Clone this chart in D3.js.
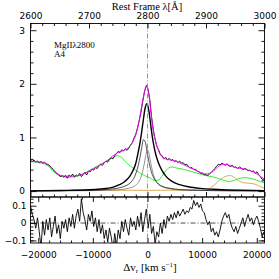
<!DOCTYPE html>
<html><head><meta charset="utf-8">
<script src="https://cdn.jsdelivr.net/npm/d3@7"></script>
<style>body{margin:0;background:#fff}svg{display:block}</style>
</head><body><svg id="c" width="279" height="279"></svg>
<script>
// ---------------- data ----------------
const lamTicks = [2600, 2700, 2800, 2900, 3000];
const velTicks = [-20000, -10000, 0, 10000, 20000];
const fluxTicks = [0, 1, 2, 3];
const resTicks = [-0.1, 0, 0.1];

// observed spectrum, sampled every 3 A from 2600
const specFlux = [
 0.57,0.55,0.58,0.54,0.56,0.53,0.55,0.52,0.54,0.50,
 0.50,0.47,0.44,0.40,0.36,0.33,0.31,0.27,0.29,0.26,
 0.29,0.24,0.30,0.27,0.32,0.26,0.30,0.28,0.33,0.27,
 0.31,0.35,0.30,0.37,0.36,0.41,0.39,0.44,0.42,0.47,
 0.50,0.48,0.53,0.56,0.54,0.59,0.62,0.60,0.66,0.70,
 0.74,0.72,0.77,0.75,0.79,0.76,0.80,0.86,0.90,0.99,
 1.06,1.18,1.32,1.48,1.68,1.86,1.97,1.90,1.70,1.38,
 1.14,0.97,0.83,0.77,0.68,0.66,0.60,0.63,0.58,0.61,
 0.57,0.59,0.55,0.57,0.53,0.56,0.52,0.53,0.49,0.50,
 0.46,0.43,0.44,0.40,0.41,0.37,0.36,0.33,0.34,0.30,
 0.31,0.29,0.32,0.35,0.38,0.42,0.46,0.50,0.49,0.52,
 0.50,0.48,0.51,0.47,0.46,0.48,0.44,0.45,0.42,0.45,
 0.43,0.40,0.42,0.41,0.38,0.39,0.36,0.38,0.33,0.36,
 0.31,0.27,0.22,0.21
];
// residuals on the same grid
const resid = [
 0.10,0.05,0.02,-0.03,0.03,-0.05,-0.14,0.01,-0.07,0.02,
 -0.04,0.03,-0.08,-0.02,0.04,-0.06,-0.01,-0.09,0.01,-0.03,
 0.02,-0.05,0.03,-0.02,0.05,-0.03,0.04,0.08,0.01,0.14,
 0.06,0.02,-0.04,0.05,0.01,0.07,-0.02,0.03,-0.05,0.02,
 -0.06,-0.01,-0.09,-0.04,-0.11,-0.03,-0.08,-0.15,-0.06,-0.13,
 -0.04,-0.09,0.01,-0.05,0.02,-0.03,-0.07,0.03,-0.02,0.01,
 -0.04,0.04,-0.02,0.06,-0.05,0.02,0.08,-0.03,0.05,-0.06,
 -0.02,-0.12,-0.05,-0.08,0.00,-0.06,0.02,-0.03,0.04,0.01,
 0.05,0.02,0.06,0.03,0.07,0.04,0.06,0.08,0.05,0.07,
 0.06,0.09,0.08,0.13,0.10,0.12,0.09,0.11,0.07,0.06,
 0.02,-0.01,0.01,-0.05,-0.03,-0.07,-0.05,-0.08,-0.04,0.01,
 0.04,0.06,0.03,0.05,0.00,-0.03,-0.05,-0.02,-0.06,-0.03,
 0.00,0.03,-0.02,0.02,0.05,0.01,0.03,-0.01,0.02,0.04,
 0.01,-0.03,-0.08,-0.05
];

// full model (magenta)
const modelWave = [2600,2610,2620,2630,2640,2650,2660,2670,2680,2690,2700,2710,2720,2730,2740,2750,2760,2770,2775,2780,2785,2790,2795,2798,2800,2803,2806,2810,2815,2820,2825,2830,2840,2850,2860,2870,2880,2890,2900,2910,2920,2930,2940,2950,2960,2970,2980,2990,3000];
const modelFlux = [0.56,0.55,0.54,0.49,0.38,0.30,0.28,0.28,0.29,0.32,0.37,0.43,0.49,0.56,0.65,0.72,0.76,0.84,0.92,1.05,1.28,1.58,1.86,1.95,1.93,1.75,1.45,1.12,0.88,0.72,0.64,0.60,0.58,0.55,0.50,0.45,0.40,0.35,0.32,0.35,0.45,0.50,0.48,0.44,0.42,0.40,0.36,0.30,0.22];

// FeII template (green)
const feWave = [2600,2610,2620,2630,2640,2650,2660,2670,2680,2690,2700,2710,2720,2730,2740,2748,2755,2765,2775,2785,2795,2805,2812,2818,2824,2830,2836,2842,2850,2860,2870,2880,2890,2900,2910,2920,2930,2938,2946,2955,2965,2975,2985,2995,3000];
const feFlux = [0.55,0.54,0.52,0.47,0.36,0.28,0.26,0.26,0.28,0.32,0.38,0.44,0.50,0.56,0.62,0.66,0.63,0.52,0.43,0.35,0.29,0.24,0.20,0.20,0.27,0.36,0.43,0.45,0.43,0.41,0.38,0.35,0.32,0.29,0.27,0.24,0.20,0.18,0.19,0.23,0.25,0.24,0.21,0.17,0.15];

// other emission (orange)
const orWave = [2665,2700,2800,2900,2905,2915,2925,2935,2940,2945,2955,2962,2970,2980,2990,3000];
const orFlux = [0.015,0.015,0.015,0.018,0.04,0.12,0.22,0.28,0.29,0.28,0.20,0.16,0.15,0.14,0.10,0.05];

// MgII total (thick black)
const mgWave = [2600,2650,2700,2720,2740,2752,2760,2768,2775,2780,2784,2787,2790,2793,2796,2799,2802,2805,2808,2811,2815,2819,2824,2832,2842,2855,2870,2890,2920,2960,3000];
const mgFlux = [0.005,0.012,0.025,0.04,0.07,0.12,0.17,0.25,0.38,0.52,0.72,0.89,1.10,1.34,1.55,1.63,1.52,1.28,1.03,0.84,0.65,0.52,0.40,0.27,0.18,0.12,0.08,0.05,0.03,0.015,0.008];

// MgII component a (thin black)
const aWave = [2600,2700,2740,2755,2765,2772,2778,2783,2787,2790,2793,2796,2799,2802,2806,2810,2816,2825,2840,2870,2950,3000];
const aFlux = [0.003,0.015,0.04,0.07,0.11,0.17,0.27,0.43,0.62,0.80,0.96,0.92,0.76,0.57,0.38,0.26,0.16,0.09,0.05,0.02,0.006,0.004];

// MgII component b (grey)
const bWave = [2600,2700,2750,2770,2780,2786,2790,2794,2797,2800,2803,2806,2810,2815,2822,2835,2860,2950,3000];
const bFlux = [0.002,0.008,0.025,0.06,0.11,0.19,0.30,0.48,0.66,0.77,0.68,0.50,0.31,0.18,0.10,0.05,0.02,0.005,0.003];

// ---------------- layout ----------------
const L = 30.5, R = 264.5, T1 = 23.5, B1 = 197, B2 = 243;
const svg = d3.select("#c");
const cLight = 299792.458;
const x = d3.scaleLinear().domain([2600, 3000]).range([L, R]);
const xv = d3.scaleLinear().domain([cLight*(2600/2800-1), cLight*(3000/2800-1)]).range([L, R]);
const y1 = d3.scaleLinear().domain([-0.11, 3.125]).range([B1, T1]);
const y2 = d3.scaleLinear().domain([-0.115, 0.15]).range([B2, B1]);
const specWave = d3.range(2600, 3000, 3);

const defs = svg.append("defs");
defs.append("clipPath").attr("id","cp1").append("rect").attr("x",L).attr("y",T1).attr("width",R-L).attr("height",B1-T1);
defs.append("clipPath").attr("id","cp2").append("rect").attr("x",L).attr("y",B1).attr("width",R-L).attr("height",B2-B1);

const g1 = svg.append("g").attr("clip-path","url(#cp1)");
const g2 = svg.append("g").attr("clip-path","url(#cp2)");

function curve(g, ws, fs, color, w, cv, ys) {
  const line = d3.line().x((d,i)=>x(ws[i])).y(d=>ys(d)).curve(cv);
  g.append("path").datum(fs).attr("d", line).attr("fill","none")
   .attr("stroke", color).attr("stroke-width", w).attr("stroke-linejoin","round");
}
const smooth = d3.curveMonotoneX, lin = d3.curveLinear;

curve(g1, orWave, orFlux, "#d9a040", 0.9, smooth, y1);
curve(g1, feWave, feFlux, "#22e622", 0.9, smooth, y1);
curve(g1, bWave, bFlux, "#777", 0.8, smooth, y1);
curve(g1, aWave, aFlux, "#222", 0.8, smooth, y1);
curve(g1, mgWave, mgFlux, "#000", 1.4, smooth, y1);
curve(g1, specWave, specFlux, "#000", 0.9, lin, y1);
curve(g1, modelWave, modelFlux, "#ff00ff", 0.9, smooth, y1);

// residuals
g2.append("line").attr("x1",L).attr("x2",R).attr("y1",y2(0)).attr("y2",y2(0))
  .attr("stroke","#000").attr("stroke-width",0.7).attr("stroke-dasharray","5,2,1,2");
curve(g2, specWave, resid, "#000", 0.9, lin, y2);

// vertical dash-dot at 2800
svg.append("line").attr("x1",x(2800)).attr("x2",x(2800)).attr("y1",T1).attr("y2",B2)
  .attr("stroke","#888").attr("stroke-width",0.9).attr("stroke-dasharray","5,2,1,2");

// ---------------- axes ----------------
function axis(gen, scale, vals, size, fmt, pad, tr) {
  const g = svg.append("g").attr("transform", tr)
    .call(gen(scale).tickValues(vals).tickSize(size).tickPadding(pad).tickFormat(fmt));
  g.select(".domain").remove();
  g.attr("font-family","DejaVu Sans").attr("font-size",9);
  g.selectAll("line").attr("stroke","#000").attr("stroke-width",0.9);
  g.selectAll("text").attr("fill","#000");
  return g;
}
const none = () => "";
const lamMinor = d3.range(2620, 3000, 20).filter(v => v % 100 !== 0);
const velMinor = d3.range(-20000, 21000, 2000).filter(v => v % 10000 !== 0);
const fMinor = d3.range(-0.0, 3.1, 0.2).map(v=>+v.toFixed(1)).filter(v => v % 1 !== 0);
const rMinor = [-0.1,-0.08,-0.06,-0.04,-0.02,0.02,0.04,0.06,0.08,0.12,0.14];

// top panel
axis(d3.axisTop, x, lamTicks, -5, d3.format("d"), 4.5, `translate(0,${T1})`);
axis(d3.axisTop, x, lamMinor, -2.5, none, 0, `translate(0,${T1})`);
axis(d3.axisBottom, x, lamTicks, -5, none, 0, `translate(0,${B1})`);
axis(d3.axisBottom, x, lamMinor, -2.5, none, 0, `translate(0,${B1})`);
const la = axis(d3.axisLeft, y1, fluxTicks, -6, d3.format("d"), 0, `translate(${L},0)`);
la.selectAll("text").attr("text-anchor","middle").attr("x",-8.5);
axis(d3.axisLeft, y1, fMinor, -3, none, 0, `translate(${L},0)`);
axis(d3.axisRight, y1, fluxTicks, -6, none, 0, `translate(${R},0)`);
axis(d3.axisRight, y1, fMinor, -3, none, 0, `translate(${R},0)`);

// bottom panel
axis(d3.axisBottom, xv, velTicks, -5, d => d3.format("d")(d).replace("-", "\u2212"), 9, `translate(0,${B2})`);
axis(d3.axisBottom, xv, velMinor, -2.5, none, 0, `translate(0,${B2})`);
axis(d3.axisTop, xv, velTicks, -5, none, 0, `translate(0,${B1})`);
axis(d3.axisTop, xv, velMinor, -2.5, none, 0, `translate(0,${B1})`);
const lb = axis(d3.axisLeft, y2, resTicks, -6, d => d === 0 ? "0" : d3.format(".1f")(d).replace("-", "\u2212"), 0, `translate(${L},0)`);
lb.selectAll("text").attr("x",-4);
axis(d3.axisLeft, y2, rMinor, -3, none, 0, `translate(${L},0)`);
axis(d3.axisRight, y2, resTicks, -6, none, 0, `translate(${R},0)`);
axis(d3.axisRight, y2, rMinor, -3, none, 0, `translate(${R},0)`);

// frames
svg.append("rect").attr("x",L).attr("y",T1).attr("width",R-L).attr("height",B1-T1)
  .attr("fill","none").attr("stroke","#000").attr("stroke-width",0.9);
svg.append("rect").attr("x",L).attr("y",B1).attr("width",R-L).attr("height",B2-B1)
  .attr("fill","none").attr("stroke","#000").attr("stroke-width",0.9);

// texts
const serif = "Liberation Serif";
svg.append("text").attr("x",147).attr("y",9.5).attr("text-anchor","middle")
  .attr("font-family",serif).attr("font-size",10.5).text("Rest Frame \u03bb[\u00c5]");
svg.append("text").attr("x",54).attr("y",48).attr("font-family",serif).attr("font-size",9).text("MgII\u03bb2800");
svg.append("text").attr("x",54).attr("y",56.5).attr("font-family",serif).attr("font-size",9).text("A4");
const xt = svg.append("text").attr("x",150).attr("y",271).attr("text-anchor","middle")
  .attr("font-family",serif).attr("font-size",11);
xt.append("tspan").text("\u0394v");
xt.append("tspan").attr("font-size",7).attr("dy",2).text("r");
xt.append("tspan").attr("dy",-2).text(" [km s");
xt.append("tspan").attr("font-size",7).attr("dy",-4).text("\u22121");
xt.append("tspan").attr("dy",4).text("]");
</script></body></html>
